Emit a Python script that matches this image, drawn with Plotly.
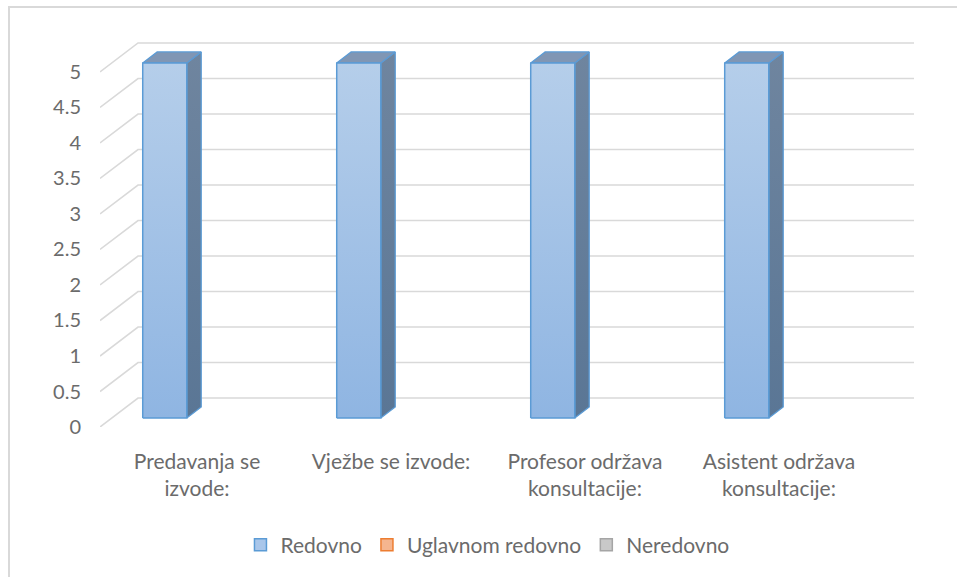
import plotly.graph_objects as go

# ---------------- data ----------------
categories = ["Predavanja se<br>izvode:", "Vježbe se izvode:",
              "Profesor održava<br>konsultacije:", "Asistent održava<br>konsultacije:"]
series_names = ["Redovno", "Uglavnom redovno", "Neredovno"]
redovno = [5, 5, 5, 5]
uglavnom_redovno = [0, 0, 0, 0]
neredovno = [0, 0, 0, 0]
y_tick_values = [0, 0.5, 1, 1.5, 2, 2.5, 3, 3.5, 4, 4.5, 5]
y_tick_labels = ["0", "0.5", "1", "1.5", "2", "2.5", "3", "3.5", "4", "4.5", "5"]

series_values = [redovno, uglavnom_redovno, neredovno]

# ---------------- styling / projection ----------------
FONT = "Lato, Calibri, Carlito, sans-serif"
TXT = "#6b6b6b"
GRID = "#d9d9d9"
DX, DY = 0.196, 0.408       # oblique depth offset (x in category units, y in value units)
D0, D1 = 0.31, 0.69          # bar depth (front, back) as fraction of floor depth
BAR_W = 0.227
face_styles = [
    dict(front=("#8fb5e2", "#b5ceea"), side=("#5a7695", "#6f859f"), top="#8096b4", line="#5b9bd5",
         legend_fill="#a9c6ea", legend_line="#5b9bd5"),
    dict(front=("#f0a070", "#f8c8a8"), side=("#b06030", "#c07040"), top="#d08050", line="#ed7d31",
         legend_fill="#f5b58f", legend_line="#ed7d31"),
    dict(front=("#b8b8b8", "#d8d8d8"), side=("#808080", "#909090"), top="#a0a0a0", line="#a5a5a5",
         legend_fill="#c9c9c9", legend_line="#a5a5a5"),
]

n_cat = len(categories)
x_left, x_right = -0.5, n_cat - 0.5

fig = go.Figure()

# walls: back gridlines + side diagonals
gx, gy = [], []
for v in y_tick_values:
    gx += [x_left, x_left + DX, x_right + DX, None]
    gy += [v, v + DY, v + DY, None]
fig.add_trace(go.Scatter(x=gx, y=gy, mode="lines", line=dict(color=GRID, width=1.6),
                         hoverinfo="skip", showlegend=False))

# 3D bars
n_ser = len(series_values)
for j, vals in enumerate(series_values):
    st = face_styles[j]
    for i, v in enumerate(vals):
        if v <= 0:
            continue
        xc = i + (j - (n_ser - 1) / 2) * BAR_W
        xl, xr = xc - BAR_W / 2, xc + BAR_W / 2
        fx0, fx1 = xl + D0 * DX, xr + D0 * DX
        bx1 = xr + D1 * DX
        bx0 = xl + D1 * DX
        y0f, y0b = D0 * DY, D1 * DY
        # side face
        fig.add_trace(go.Scatter(
            x=[fx1, bx1, bx1, fx1, fx1], y=[y0f, y0b, v + y0b, v + y0f, y0f],
            mode="lines", fill="toself",
            fillgradient=dict(type="vertical", colorscale=[[0, st["side"][0]], [1, st["side"][1]]]),
            line=dict(color=st["line"], width=1.3), hoverinfo="skip", showlegend=False))
        # top face
        fig.add_trace(go.Scatter(
            x=[fx0, fx1, bx1, bx0, fx0], y=[v + y0f, v + y0f, v + y0b, v + y0b, v + y0f],
            mode="lines", fill="toself", fillcolor=st["top"],
            line=dict(color=st["line"], width=1.3), hoverinfo="skip", showlegend=False))
        # front face
        fig.add_trace(go.Scatter(
            x=[fx0, fx1, fx1, fx0, fx0], y=[y0f, y0f, v + y0f, v + y0f, y0f],
            mode="lines", fill="toself",
            fillgradient=dict(type="vertical", colorscale=[[0, st["front"][0]], [1, st["front"][1]]]),
            line=dict(color=st["line"], width=1.5), hoverinfo="skip", showlegend=False))

# legend entries
for j, name in enumerate(series_names):
    st = face_styles[j]
    fig.add_trace(go.Scatter(
        x=[None], y=[None], mode="markers", name=name,
        marker=dict(symbol="square", size=12, color=st["legend_fill"],
                    line=dict(color=st["legend_line"], width=1.5))))

fig.update_layout(
    width=957, height=577,
    margin=dict(l=100, r=43, t=40, b=150),
    paper_bgcolor="white", plot_bgcolor="white",
    font=dict(family=FONT, color=TXT),
    showlegend=True,
    legend=dict(orientation="h", x=0.476, xanchor="center", y=-0.305, yanchor="middle",
                font=dict(size=21, color=TXT, family=FONT),
                bgcolor="rgba(0,0,0,0)"),
    xaxis=dict(range=[x_left, x_right + DX], tickvals=list(range(n_cat)), ticktext=categories,
               showgrid=False, zeroline=False, showline=False, ticks="",
               ticklabelstandoff=20, tickfont=dict(size=21, color=TXT, family=FONT), fixedrange=True),
    yaxis=dict(range=[0, 5.45], tickvals=y_tick_values, ticktext=y_tick_labels,
               showgrid=False, zeroline=False, showline=False, ticks="",
               ticklabelstandoff=18, tickfont=dict(size=20, color=TXT, family=FONT), fixedrange=True),
    shapes=[dict(type="rect", xref="paper", yref="paper",
                 x0=(9 - 100) / 814, x1=(975 - 100) / 814,
                 y0=(427 - 590) / 387, y1=(427 - 7) / 387,
                 line=dict(color="#d9d9d9", width=2), fillcolor="rgba(0,0,0,0)", layer="below")],
)

fig.write_html(
    "out.html",
    config={"displayModeBar": False},
    post_script="document.body.style.margin='0';document.documentElement.style.overflow='hidden';",
)
